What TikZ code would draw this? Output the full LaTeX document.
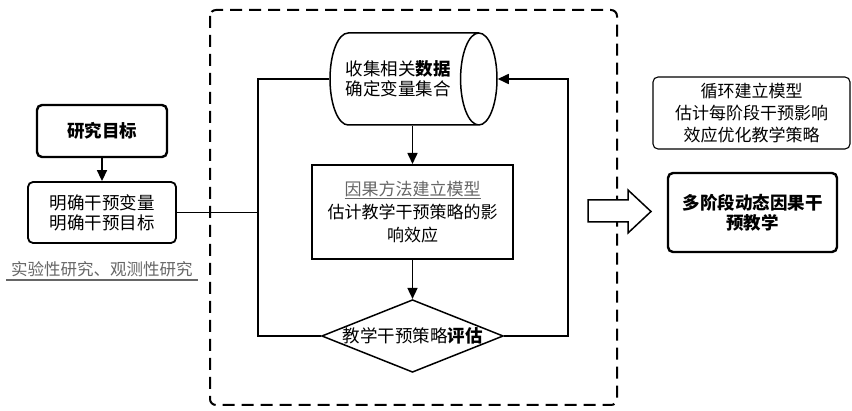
\documentclass[tikz,border=0pt]{standalone}
\usepackage{fontspec}
\setmainfont{Noto Sans CJK SC}
\usepackage{tikz}
\usetikzlibrary{shapes.geometric,arrows.meta,positioning}

\tikzset{
  box/.style = {draw, align=center, inner sep=0pt},
  flow/.style = {line width=1.6pt},
  arr/.style = {flow, -{Triangle[length=11pt,width=10pt]}},
}

\begin{document}
\begin{tikzpicture}[x=1pt, y=-1pt, font=\fontsize{17.5}{20}\selectfont]
    \useasboundingbox (0,0) rectangle (852,411);
    % left part
    \node[box, rounded corners=5pt, line width=2.4pt, minimum width=130pt, minimum height=52pt] (goal) at (102,131) {\bfseries 研究目标};
    \node[box, rounded corners=5pt, line width=1.8pt, minimum width=148pt, minimum height=61pt] (aim) at (102,212.5) {明确干预变量\\明确干预目标};
    \node[text=black!60, inner xsep=5pt, inner ysep=3pt, font=\fontsize{16.5}{20}\selectfont] (kind) at (102,269) {实验性研究、观测性研究};
    \draw[black!60, line width=1.3pt] (kind.south west) -- (kind.south east);
    \draw[arr] (goal) -- (aim);
    % dashed frame
    \draw[dash pattern=on 12pt off 7pt, rounded corners=6pt, line width=2pt] (210,10) rectangle (617,405);
    \coordinate (loopL) at (258,0);
    \coordinate (loopR) at (568,0);
    \node[box, cylinder, shape aspect=1.0, anchor=shape center, line width=1.5pt, minimum height=167pt, minimum width=92pt] (data) at (413.5,79) {\hspace*{-16pt}收集相关\textbf{数据}\hspace*{-4pt}\\\hspace*{-16pt}确定变量集合\hspace*{-4pt}};
    \node[box, line width=2pt, minimum width=201pt, minimum height=94pt, font=\fontsize{17}{23}\selectfont] (model) at (412.5,212) {{\color{black!60}\underline{因果方法建立模型}}\\估计教学干预策略的影\\响效应};
    \node[box, diamond, shape aspect=2.5, line width=1.5pt, minimum width=181pt, minimum height=72pt] (eval) at (412.5,336) {教学干预策略\textbf{评估}};
    \draw[arr] (model.north |- data.south) -- (model.north);
    \draw[arr] (model) -- (eval);
    \draw[flow] (eval.west) -- (eval.west -| loopL) |- (data.west);
    \draw[arr] (eval.east) -- (eval.east -| loopR) |- (data.east);
    \draw[flow] (aim.east) -- (aim.east -| loopL);
    % right part
    \draw[line width=1.5pt, fill=white] (588,200) -- (628,200) -- (628,190) -- (651,211.5) -- (628,233) -- (628,222) -- (588,222) -- cycle;
    \node[box, rounded corners=5pt, line width=1.1pt, minimum width=197pt, minimum height=72pt, font=\fontsize{17}{22}\selectfont] (loop) at (751.5,113) {循环建立模型\\估计每阶段干预影响\\效应优化教学策略};
    \node[box, rounded corners=5pt, line width=2.4pt, minimum width=169pt, minimum height=79pt] (dyn) at (752.5,212.5) {\bfseries 多阶段动态因果干\\\bfseries 预教学};
\end{tikzpicture}
\end{document}
